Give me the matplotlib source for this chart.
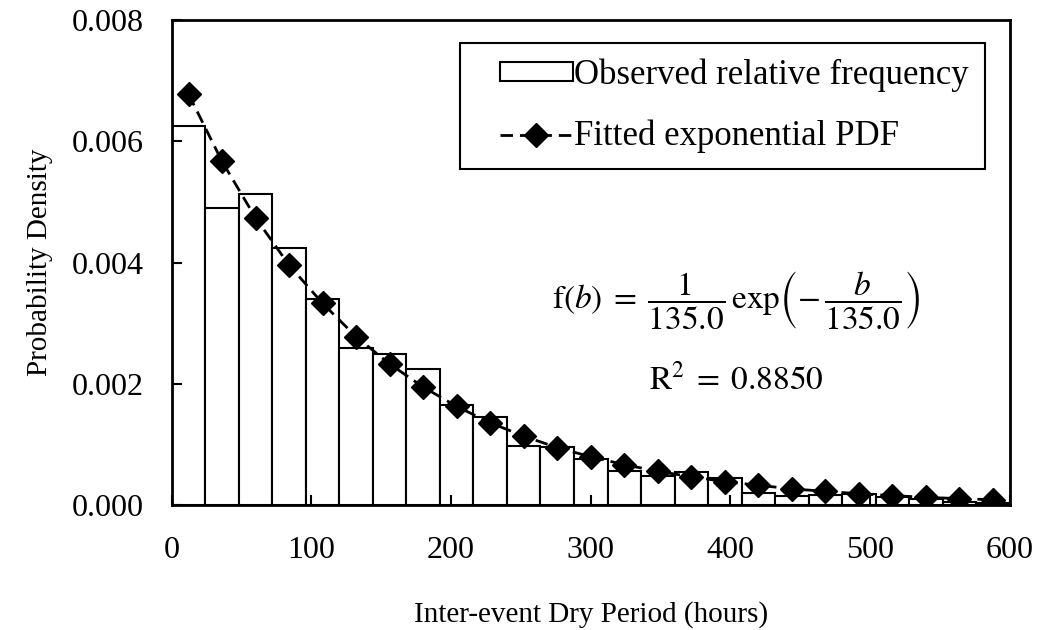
import numpy as np
import matplotlib.pyplot as plt
from matplotlib.legend_handler import HandlerPatch, HandlerLine2D

plt.rcParams['font.family'] = ['Liberation Serif', 'DejaVu Serif']
plt.rcParams['mathtext.fontset'] = 'stix'

# histogram: 25 bins of 24 hours over 0-600
bin_edges = np.arange(0, 601, 24)
observed = [0.00625, 0.00490, 0.00513, 0.00424, 0.00340, 0.00260, 0.00249, 0.00224,
            0.00166, 0.00146, 0.00098, 0.00096, 0.00077, 0.00057, 0.00049, 0.00055,
            0.00045, 0.00021, 0.00016, 0.00017, 0.00019, 0.00014, 0.00010, 0.00006,
            0.00004]

# fitted exponential pdf at bin centres
bin_centres = [12, 36, 60, 84, 108, 132, 156, 180, 204, 228, 252, 276, 300,
               324, 348, 372, 396, 420, 444, 468, 492, 516, 540, 564, 588]
fitted = [0.00678, 0.00567, 0.00474, 0.00396, 0.00333, 0.00278, 0.00233, 0.00195,
          0.00163, 0.00136, 0.00114, 0.00095, 0.00080, 0.00067, 0.00056, 0.00047,
          0.00039, 0.00033, 0.00027, 0.00023, 0.00019, 0.00016, 0.00013, 0.00011,
          0.00009]

fig = plt.figure(figsize=(10.41, 6.3), dpi=100)
ax = fig.add_axes([0.165, 0.198, 0.805, 0.770])

bars = ax.bar(bin_edges[:-1], observed, width=24, align='edge', color='white',
              edgecolor='black', linewidth=1.5)
line, = ax.plot(bin_centres, fitted, color='black', linestyle=(0, (4.5, 2.5)),
                linewidth=2, marker='D', markersize=12, markerfacecolor='black',
                markeredgecolor='black')

ax.set_xlim(0, 600)
ax.set_ylim(0, 0.008)
ax.set_xticks(range(0, 601, 100))
ax.set_yticks(np.arange(0, 0.0081, 0.002))
ax.set_yticklabels(['0.000', '0.002', '0.004', '0.006', '0.008'])
ax.tick_params(direction='in', length=7, width=1.5, labelsize=23)
ax.tick_params(axis='y', pad=20)
ax.tick_params(axis='x', pad=22)
for s in ax.spines.values():
    s.set_linewidth(2)

ax.set_xlabel('Inter-event Dry Period (hours)', fontsize=21, labelpad=26)
ax.set_ylabel('Probability Density', fontsize=21, labelpad=14)

# handles sit a bit in from the left edge of the legend box
pad = 0.7
bar_handle = bars.patches[0]
leg = ax.legend([bar_handle, line], ['Observed relative frequency', 'Fitted exponential PDF'],
                handler_map={bar_handle: HandlerPatch(xpad=pad), line: HandlerLine2D(xpad=pad)},
                loc='upper right', bbox_to_anchor=(0.970, 0.953), fontsize=25,
                fancybox=False, edgecolor='black', framealpha=1,
                handlelength=2.1 + pad, handleheight=0.45, handletextpad=0.05,
                borderpad=0.45, labelspacing=0.8, borderaxespad=0)
leg.get_frame().set_linewidth(1.5)

ax.text(0.674, 0.423,
        r'$\mathrm{f}(b)\;=\;\dfrac{1}{135.0}\,\mathrm{exp}\left(-\,\dfrac{b}{135.0}\right)$',
        transform=ax.transAxes, ha='center', va='center', fontsize=24)
ax.text(0.674, 0.258, r'$\mathrm{R}^2\;=\;0.8850$', transform=ax.transAxes,
        ha='center', va='center', fontsize=24)

fig.savefig('out.png', dpi=100)
